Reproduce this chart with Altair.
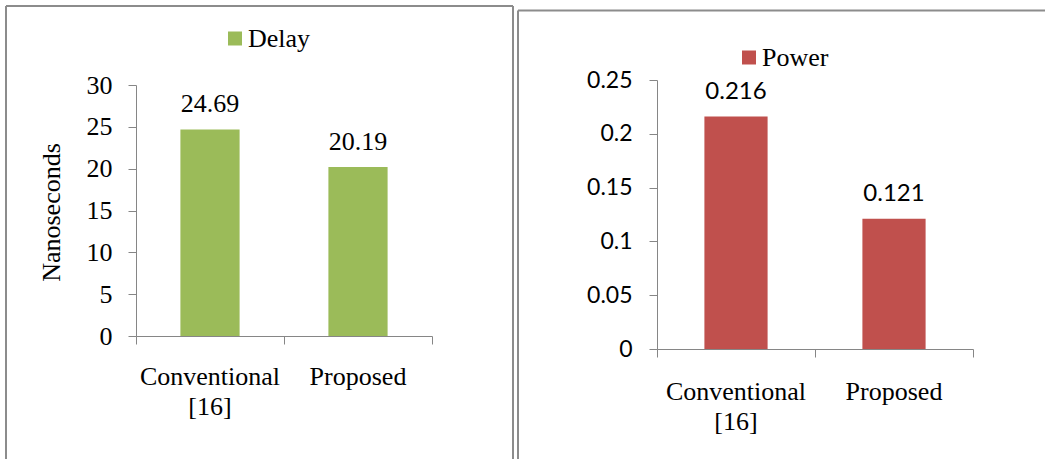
import altair as alt
import pandas as pd

# ---- data ----
categories = ["Conventional\n[16]", "Proposed"]
delay_values = [24.69, 20.19]
power_values = [0.216, 0.121]
delay_labels = ["24.69", "20.19"]
power_labels = ["0.216", "0.121"]
delay_ticks = [0, 5, 10, 15, 20, 25, 30]
power_ticks = [0, 0.05, 0.1, 0.15, 0.2, 0.25]

SERIF = "Liberation Serif"
SANS = "Lato"
AXIS_GRAY = "#868686"
FRAME_GRAY = "#8c8c8c"


def make_df(values, labels, series):
    return pd.DataFrame({
        "idx": list(range(len(categories))),
        "category": categories,
        "value": values,
        "label": labels,
        "series": [series] * len(categories),
    })


def frame_layers(segments):
    one = alt.Data(values=[{"k": 1}])
    out = []
    for seg in segments:
        enc = {k: alt.value(v) for k, v in seg.items()}
        out.append(alt.Chart(one).mark_rule(color=FRAME_GRAY, strokeWidth=2).encode(**enc))
    return out


def panel(df, series, color, width, height, y_domain, y_range, y_ticks,
          tick_font, tick_size, tick_fmt, tick_len, label_pad, value_font,
          value_size, value_dy, y_title, legend_x, legend_y, label_offset,
          segments, cat_y):
    base = alt.Chart(df).transform_calculate(
        x0="datum.idx + 0.3", x1="datum.idx + 0.7", xc="datum.idx + 0.5"
    )
    xscale = alt.Scale(domain=[0, 2], nice=False)
    yscale = alt.Scale(domain=y_domain, range=y_range, nice=False)
    yaxis_kw = dict(
        values=y_ticks, grid=False, format=tick_fmt,
        labelFont=tick_font, labelFontSize=tick_size, labelColor="black",
        labelPadding=label_pad, tickSize=tick_len, tickColor=AXIS_GRAY,
        domainColor=AXIS_GRAY, labelOverlap=False,
    )
    if y_title:
        yaxis_kw.update(
            title=y_title, titleFont=SERIF, titleFontSize=26,
            titleFontWeight="normal", titleColor="black", titleAngle=270,
            titleX=-77, titleY=132, titleAlign="center",
            titleBaseline="alphabetic",
        )
    else:
        yaxis_kw.update(title="")
    bars = base.mark_bar(opacity=1).encode(
        x=alt.X("x0:Q", scale=xscale,
                axis=alt.Axis(values=[0, 1, 2], labels=False, grid=False,
                              tickSize=tick_len, tickColor=AXIS_GRAY,
                              domainColor=AXIS_GRAY, title="")),
        x2="x1:Q",
        y=alt.Y("value:Q", scale=yscale, axis=alt.Axis(**yaxis_kw)),
        y2=alt.datum(0),
        color=alt.Color(
            "series:N",
            scale=alt.Scale(domain=[series], range=[color]),
            legend=alt.Legend(
                title=None, orient="none", legendX=legend_x, legendY=legend_y,
                symbolType="square", symbolSize=196, symbolStrokeWidth=0,
                symbolOpacity=1, labelFont=SERIF, labelFontSize=26,
                labelColor="black", labelOffset=label_offset, padding=0,
            ),
        ),
    )
    vals = base.mark_text(
        font=value_font, fontSize=value_size, baseline="alphabetic",
        dy=value_dy, color="black"
    ).encode(x="xc:Q", y="value:Q", text="label:N")
    cats = base.mark_text(
        font=SERIF, fontSize=26, baseline="top", lineBreak="\n",
        lineHeight=30, color="black"
    ).encode(x="xc:Q", y=alt.value(cat_y), text="category:N")
    layers = frame_layers(segments) + [bars, vals, cats]
    return alt.layer(*layers).properties(width=width, height=height)


left = panel(
    make_df(delay_values, delay_labels, "Delay"), "Delay", "#9BBB59",
    296, 256, [0, 30], [256, 5], delay_ticks, SERIF, 26, "d", 8, 16,
    SERIF, 26, -17, "Nanoseconds", 86, -54.5, 0,
    [dict(x=-130, y=-74, y2=379), dict(x=-130, x2=377, y=-74),
     dict(x=377, y=-74, y2=379)],
    284,
)
right = panel(
    make_df(power_values, power_labels, "Power"), "Power", "#C0504D",
    316, 269, [0, 0.25], [269, 0], power_ticks, SANS, 23, ".2~f", 8, 17,
    SANS, 24, -18, None, 79, -35.5, 0,
    [dict(x=-139, y=-69.5, y2=379), dict(x=-139, x2=388, y=-69.5)],
    299,
)

chart = alt.hconcat(left, right, spacing=225, bounds="flush").resolve_scale(
    color="independent"
).properties(
    padding={"left": 5, "top": 5, "right": 0, "bottom": 0},
    background="white",
).configure_view(strokeWidth=0)

chart.save("out.html", embed_options={"renderer": "svg", "actions": False})
